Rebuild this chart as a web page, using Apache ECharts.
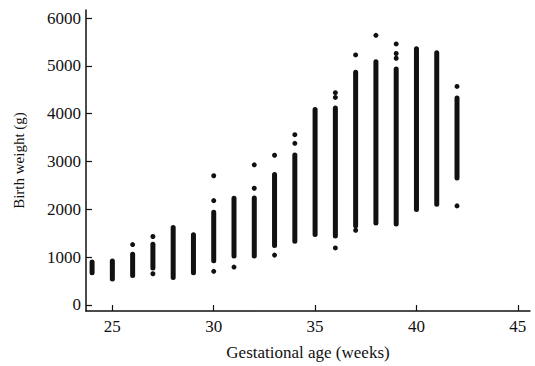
<!DOCTYPE html>
<html>
<head>
<meta charset="utf-8">
<script src="https://cdn.jsdelivr.net/npm/echarts@6/dist/echarts.min.js"></script>
<style>
  html, body { margin: 0; padding: 0; background: #fff; }
  #chart { width: 535px; height: 366px; }
</style>
</head>
<body>
<div id="chart"></div>
<script>
// gestational age columns (weeks) and the dense range of birth weights (g)
var weeks = [24, 25, 26, 27, 28, 29, 30, 31, 32, 33, 34, 35, 36, 37, 38, 39, 40, 41, 42];
var lows  = [620, 490, 560, 720, 520, 620, 870, 970, 970, 1190, 1280, 1420, 1390, 1600, 1660, 1640, 1940, 2050, 2600];
var highs = [950, 970, 1110, 1320, 1670, 1520, 1990, 2280, 2290, 2780, 3190, 4140, 4170, 4920, 5140, 4990, 5410, 5330, 4380];

// isolated babies outside the dense part of each column
var outlierWeeks   = [26, 27, 27, 30, 30, 30, 31, 32, 32, 33, 33, 34, 34, 36, 36, 36, 37, 37, 38, 39, 39, 39, 42, 42];
var outlierWeights = [1260, 1430, 650, 2700, 2180, 700, 790, 2930, 2440, 3130, 1040, 3560, 3380, 4440, 4340, 1190, 5230, 1560, 5640, 5460, 5260, 5160, 4570, 2070];

var xTicks = [25, 30, 35, 40, 45];
var yTicks = [0, 1000, 2000, 3000, 4000, 5000, 6000];

var ink = '#111';
var serif = '"Liberation Serif", "DejaVu Serif", serif';

var columns = weeks.map(function (w, i) { return [w, lows[i], highs[i]]; });
var outliers = outlierWeeks.map(function (w, i) { return [w, outlierWeights[i]]; });

var chart = echarts.init(document.getElementById('chart'), null, { renderer: 'svg' });
chart.setOption({
  animation: false,
  backgroundColor: '#fff',
  grid: { left: 86, right: 5, top: 10, bottom: 53 },
  xAxis: {
    type: 'value',
    min: 23.7,
    max: 45.6,
    name: 'Gestational age (weeks)',
    nameLocation: 'middle',
    nameGap: 33,
    nameTextStyle: { fontFamily: serif, fontSize: 17, color: ink },
    axisLine: { onZero: false, lineStyle: { color: ink, width: 1.5 } },
    axisTick: { inside: true, length: 6, customValues: xTicks, lineStyle: { color: ink, width: 1.2 } },
    axisLabel: { customValues: xTicks, fontFamily: serif, fontSize: 17, color: ink, margin: 7,
      formatter: function (v) { return String(v); } },
    splitLine: { show: false }
  },
  yAxis: {
    type: 'value',
    min: -130,
    max: 6170,
    name: 'Birth weight (g)',
    nameLocation: 'middle',
    nameRotate: 90,
    nameGap: 60,
    nameTextStyle: { fontFamily: serif, fontSize: 15, color: ink },
    axisLine: { show: true, onZero: false, lineStyle: { color: ink, width: 1.5 } },
    axisTick: { show: true, inside: true, length: 6, customValues: yTicks, lineStyle: { color: ink, width: 1.2 } },
    axisLabel: { customValues: yTicks, fontFamily: serif, fontSize: 17, color: ink, margin: 5,
      formatter: function (v) { return String(v); } },
    splitLine: { show: false }
  },
  series: [
    {
      type: 'custom',
      data: columns,
      encode: { x: 0, y: [1, 2] },
      renderItem: function (params, api) {
        var top = api.coord([api.value(0), api.value(2)]);
        var bot = api.coord([api.value(0), api.value(1)]);
        var w = 5;
        return {
          type: 'rect',
          shape: { x: top[0] - w / 2, y: top[1], width: w, height: bot[1] - top[1], r: w / 2 },
          style: { fill: ink }
        };
      }
    },
    {
      type: 'scatter',
      data: outliers,
      symbol: 'circle',
      symbolSize: 5,
      itemStyle: { color: ink, opacity: 1 }
    }
  ]
});
</script>
</body>
</html>
